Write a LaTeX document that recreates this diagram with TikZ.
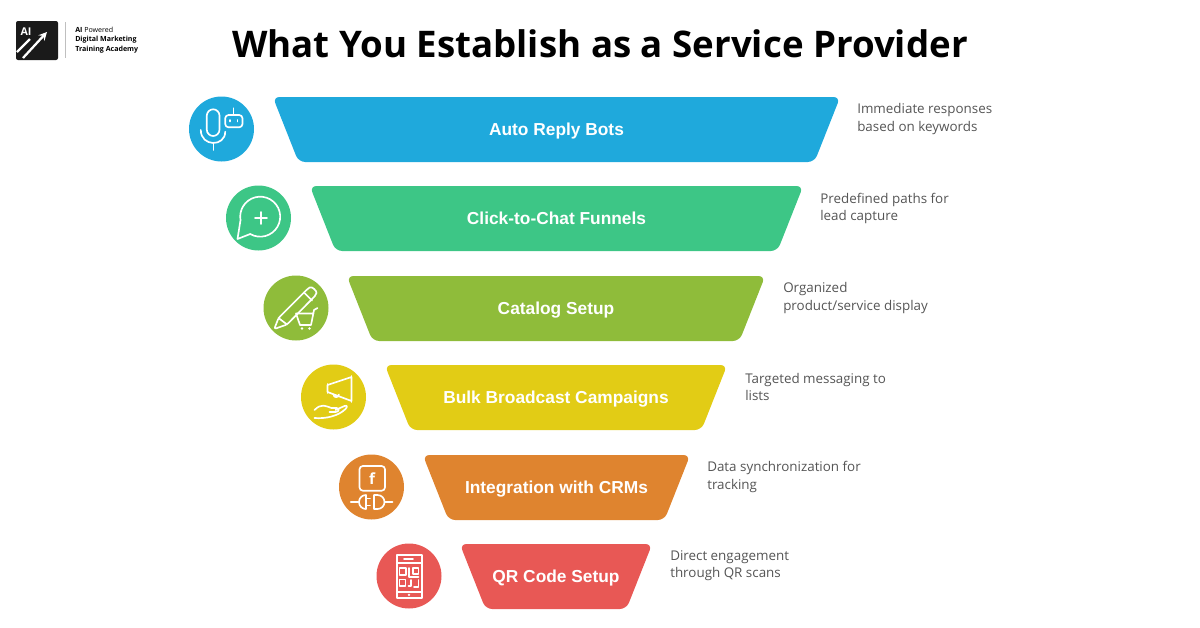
\documentclass[tikz,border=0pt]{standalone}
\usepackage{fontspec}
\setmainfont{Open Sans}
\newfontfamily\bandfont{Liberation Sans}
\usetikzlibrary{shapes.geometric}

\definecolor{autoblue}{HTML}{1FA9DC}
\definecolor{chatgreen}{HTML}{3DC686}
\definecolor{catalogolive}{HTML}{8FBC3A}
\definecolor{bulkyellow}{HTML}{E2CC15}
\definecolor{crmorange}{HTML}{DF842F}
\definecolor{qrred}{HTML}{E85855}
\definecolor{desctext}{HTML}{555555}
\definecolor{logoblack}{HTML}{1A1A1A}

\tikzset{
  band/.style={shape=trapezium, shape border rotate=180, trapezium stretches body=true,
    trapezium left angle=34, trapezium right angle=34, rounded corners=5pt,
    minimum height=48.75pt, inner sep=0pt, outer sep=0pt, text=white,
    text height=11pt, text depth=2pt,
    font=\bandfont\bfseries\fontsize{13}{16}\selectfont},
  badge/.style={shape=circle, minimum size=48.75pt, inner sep=0pt, outer sep=0pt},
  desc/.style={anchor=west, align=left, inner sep=0pt, text=desctext,
    font=\fontsize{10.05}{12.9}\selectfont},
  icon/.style={draw=white, line width=1.25pt, line cap=round, line join=round},
}

\begin{document}
\begin{tikzpicture}[x=0.75pt,y=-0.75pt]
\useasboundingbox (0,0) rectangle (1200,628);

% heading and logo
\node[inner sep=0pt, font=\bfseries\fontsize{27.5}{34}\selectfont] (title) at (600,44) {What You Establish as a Service Provider};
\node[shape=rectangle, fill=logoblack, rounded corners=1.5pt, minimum width=31.5pt, minimum height=29.25pt, inner sep=0pt] (logo) at (37,40.5) {};
\node[inner sep=0pt, text=white, font=\bfseries\fontsize{8}{8}\selectfont] (logoai) at (26,32) {AI};
\draw[white, line width=1.7pt, -stealth] (23,58) -- (47,32);
\draw[white, line width=1.7pt] (17,52) -- (30,39);
\draw[black!25, line width=0.5pt] (65,22) -- (65,58);
\node[anchor=west, align=left, inner sep=0pt, font=\fontsize{5.3}{7}\selectfont] (logotext) at (75,40) {\textbf{AI} Powered\\\textbf{Digital Marketing}\\\textbf{Training Academy}};

% funnel
\node[band, fill=autoblue, minimum width=425.5pt] (B1) at (556.5,129.5) {Auto Reply Bots};
\node[band, fill=chatgreen, minimum width=370pt] (B2) at (556.5,218.5) {Click-to-Chat Funnels};
\node[band, fill=catalogolive, minimum width=313.75pt] (B3) at (556,308.5) {Catalog Setup};
\node[band, fill=bulkyellow, minimum width=256.75pt] (B4) at (556,397.5) {Bulk Broadcast Campaigns};
\node[band, fill=crmorange, minimum width=200.5pt] (B5) at (556.5,487.5) {Integration with CRMs};
\node[band, fill=qrred, minimum width=144.25pt] (B6) at (556,576.5) {QR Code Setup};

% descriptions
\node[desc] (D1) at (857,119) {Immediate responses\\based on keywords};
\node[desc] (D2) at (820,208.5) {Predefined paths for\\lead capture};
\node[desc] (D3) at (783,298) {Organized\\product/service display};
\node[desc] (D4) at (745,387) {Targeted messaging to\\lists};
\node[desc] (D5) at (707,477) {Data synchronization for\\tracking};
\node[desc] (D6) at (670,566) {Direct engagement\\through QR scans};

% badges
\node[badge, fill=autoblue] (C1) at (221.5,129) {};
\node[badge, fill=chatgreen] (C2) at (258.5,218) {};
\node[badge, fill=catalogolive] (C3) at (296,308) {};
\node[badge, fill=bulkyellow] (C4) at (333.5,397) {};
\node[badge, fill=crmorange] (C5) at (371.5,487) {};
\node[badge, fill=qrred] (C6) at (409,576) {};

% microphone and bot
\begin{scope}[shift={(221.5,129)}, icon]
\draw[rounded corners=4.8pt] (-14.7,-19.7) rectangle (-2,7);
\draw (-20.7,1) .. controls (-20.7,18) and (3.7,18) .. (3.7,2.7);
\draw (-8,13.7) -- (-8,21);
\draw[rounded corners=2.5pt] (3.7,-14) rectangle (21,-1.7);
\draw (12,-20.7) -- (12,-14);
\draw (8.7,-9) -- (8.7,-7.5);
\draw (16,-9) -- (16,-7.5);
\end{scope}

% chat bubble
\begin{scope}[shift={(258.5,218)}, icon]
\draw (-8.3,16) arc[start angle=120, end angle=-190, radius=20] -- (-21,21) -- cycle;
\draw (2.5,-6) -- (2.5,6);
\draw (-3.5,0) -- (8.5,0);
\end{scope}

% pencil and cart
\begin{scope}[shift={(296,308)}, icon]
\draw[rounded corners=1.5pt] (-21.7,21) -- (-17.5,10) -- (12,-19.5) .. controls (16,-22) and (21,-17) .. (20,-13) -- (-9,16.5) -- cycle;
\draw (-17.5,10) -- (-9,16.5);
\draw (8,-15.5) -- (16,-7.5);
\draw (21.5,0) -- (18,2) -- (15,17) -- (4,17) -- (0,5.5) -- (17.5,5.5);
\fill[white, draw=none] (6,20.5) circle[radius=1.4];
\fill[white, draw=none] (13.5,20.5) circle[radius=1.4];
\end{scope}

% megaphone on a hand
\begin{scope}[shift={(333.5,397)}, icon]
\draw (-6,-12) -- (18,-20) -- (18,4) -- (-6,-5) -- cycle;
\draw (-6,-13) -- (-6,-4);
\draw (18,-21) -- (18,5);
\draw (0,-2.5) arc[start angle=180, end angle=0, radius=2.7];
\draw (-19,13) .. controls (-12,6) and (-8,9) .. (-2,11) -- (3,11) .. controls (6,11) and (6,15) .. (2,15) -- (-4,15);
\draw (2,13) -- (11,9) .. controls (14,8) and (14,10) .. (12,12) .. controls (5,19) and (-8,22) .. (-19,21);
\end{scope}

% facebook square and plug
\begin{scope}[shift={(371.5,487)}, icon]
\draw[rounded corners=2.5pt] (-12,-21) rectangle (13.5,3.7);
\node[inner sep=0pt, text=white, font=\bfseries\fontsize{11.5}{12}\selectfont] (fb) at (0.5,-8.5) {f};
\draw (-20.7,15) -- (-13,15);
\draw (-5.5,8) arc[start angle=-90, end angle=-270, radius=7] -- cycle;
\draw (-5.5,11.5) -- (-1.5,11.5);
\draw (-5.5,18.5) -- (-1.5,18.5);
\draw (2.5,8) -- (6,8) arc[start angle=-90, end angle=90, radius=7] -- (2.5,22) -- cycle;
\draw (13,15) -- (21,15);
\end{scope}

% phone with code
\begin{scope}[shift={(409,576)}, icon]
\draw (-12.3,-21) rectangle (12.7,22);
\draw (-12.3,-12.7) -- (12.7,-12.7);
\draw (-12.3,15.7) -- (12.7,15.7);
\draw (-5,-17) -- (4,-17);
\fill[white, draw=none] (0,18.8) circle[radius=1.3];
\draw (-9.5,-8) rectangle (-3,-1);
\draw (4,-8) rectangle (9.5,-2);
\draw (-9.5,3.5) rectangle (-3.5,10);
\draw (0,-8) -- (0,1) -- (9.5,1);
\draw (2,4) -- (2,10) -- (-0.5,10);
\draw (9.5,4) -- (9.5,11) -- (5,11);
\end{scope}

\end{tikzpicture}
\end{document}
